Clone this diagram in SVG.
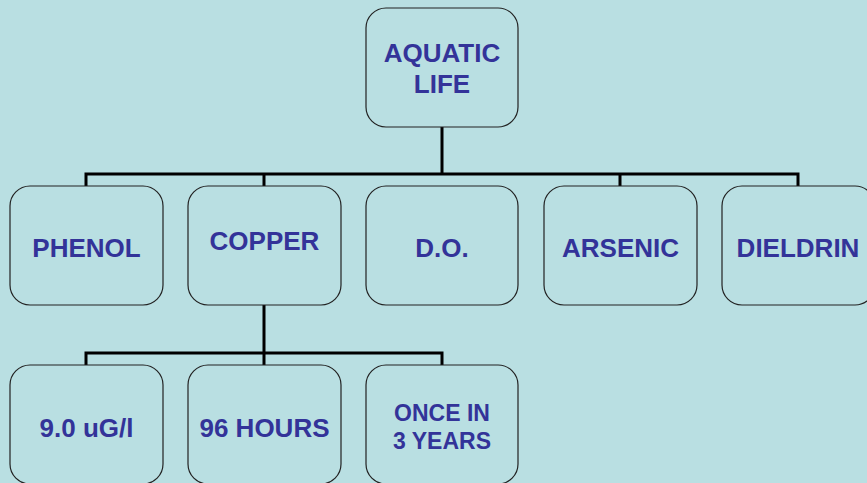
<svg xmlns="http://www.w3.org/2000/svg" width="867" height="483" viewBox="0 0 867 483">
<style>
.box{fill:#b9dfe2;stroke:#222;stroke-width:1.2}
.t{font-family:"Liberation Sans",Arial,sans-serif;font-weight:bold;font-size:26px;fill:#333399;text-anchor:middle}
.s{font-size:23px}
.c{fill:none;stroke:#000;stroke-width:3}
</style>
<rect width="867" height="483" fill="#b9dfe2"/>
<g id="connectors">
<path class="c" d="M442 127V174M86 187V174H798V187M264 174V187M620 174V187"/>
<path class="c" d="M264 305V353M86 366V353H442V366M264 353V366"/>
</g>
<g id="aquatic-life"><rect class="box" x="366" y="8" width="152" height="119" rx="20"/><text class="t" x="442" y="62">AQUATIC</text><text class="t" x="442" y="93">LIFE</text></g>
<g id="phenol"><rect class="box" x="10" y="186" width="153" height="119" rx="20"/><text class="t" x="86.5" y="257">PHENOL</text></g>
<g id="copper"><rect class="box" x="188" y="186" width="153" height="119" rx="20"/><text class="t" x="264.5" y="250">COPPER</text></g>
<g id="do"><rect class="box" x="366" y="186" width="152" height="119" rx="20"/><text class="t" x="442" y="257">D.O.</text></g>
<g id="arsenic"><rect class="box" x="544" y="186" width="153" height="119" rx="20"/><text class="t" x="620.5" y="257">ARSENIC</text></g>
<g id="dieldrin"><rect class="box" x="722" y="186" width="153" height="119" rx="20"/><text class="t" x="798" y="257">DIELDRIN</text></g>
<g id="conc"><rect class="box" x="10" y="365" width="153" height="119" rx="20"/><text class="t" x="86.5" y="437">9.0 uG/l</text></g>
<g id="duration"><rect class="box" x="188" y="365" width="153" height="119" rx="20"/><text class="t" x="264.5" y="437">96 HOURS</text></g>
<g id="frequency"><rect class="box" x="366" y="365" width="152" height="119" rx="20"/><text class="t s" x="442" y="421">ONCE IN</text><text class="t s" x="442" y="449">3 YEARS</text></g>
</svg>
